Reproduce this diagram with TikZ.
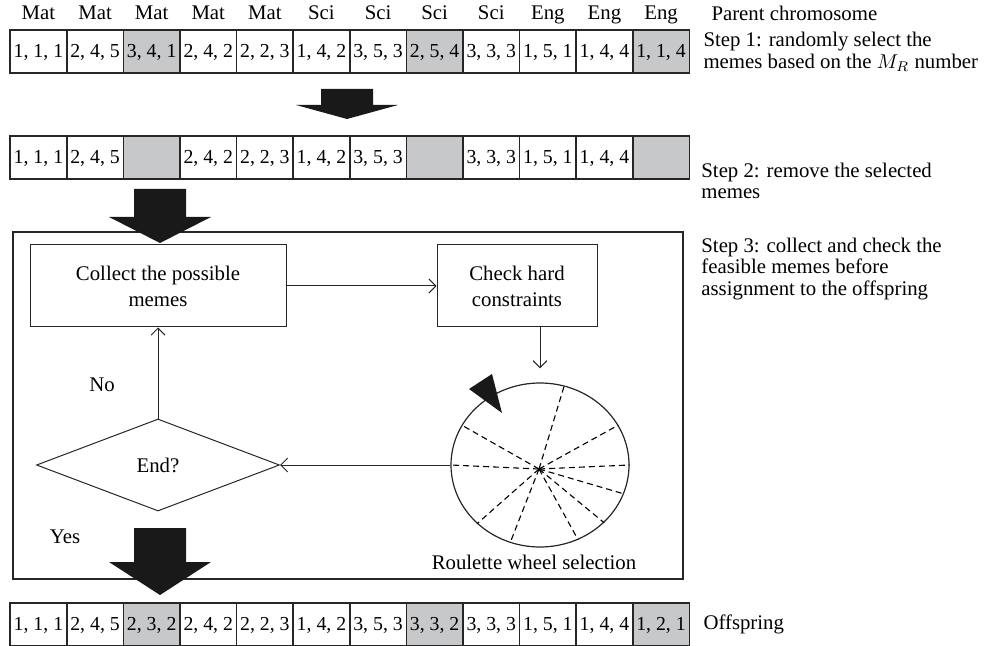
\documentclass[tikz,border=0pt]{standalone}
\usepackage{fontspec}
\setmainfont{Liberation Serif}
\usepackage{tikz}
\usetikzlibrary{matrix, positioning, shapes.geometric, arrows.meta}
\definecolor{memegray}{RGB}{199,200,202}
\tikzset{>={Straight Barb[length=3.5pt,width=7pt]}}
% big black arrow: x, top, base of head, tip
\newcommand{\bigarrow}[4]{%
\fill[black!90] (#1-26,#2) -- (#1+26,#2) -- (#1+26,#3) -- (#1+51,#3)
  -- (#1,#4) -- (#1-51,#3) -- (#1-26,#3) -- cycle;}

\begin{document}
\begin{tikzpicture}[x=0.5pt, y=-0.5pt, font=\fontsize{10.4}{10.75}\selectfont,
meme/.style={draw=black!85, line width=0.75pt, minimum width=28.3pt, minimum height=21.5pt, inner sep=0pt, text height=1.5ex, text depth=0.25ex, font=\fontsize{9.9}{11}\selectfont},
picked/.style={fill=memegray},
memerow/.style={matrix of nodes, nodes=meme, column sep=-0.75pt, inner sep=0pt, anchor=north west, nodes in empty cells},
steptext/.style={align=left, inner sep=0pt, anchor=west},
stepbox/.style={draw=black!85, line width=0.5pt, minimum height=41pt, align=center, font=\fontsize{10.4}{13}\selectfont},
flow/.style={->, line width=0.5pt, draw=black!85},
spoke/.style={line width=0.55pt, dash pattern=on 3pt off 2pt}]

\useasboundingbox (0,0) rectangle (984,646);

% parent chromosome
\matrix (par) [memerow, row sep=3pt, row 1/.style={nodes={draw=none, minimum height=10pt, font=\fontsize{10.4}{11}\selectfont}}] at (9,3)
{
Mat & Mat & Mat & Mat & Mat & Sci & Sci & Sci & Sci & Eng & Eng & Eng \\
1, 1, 1 & 2, 4, 5 & |[picked]| 3, 4, 1 & 2, 4, 2 & 2, 2, 3 & 1, 4, 2 & 3, 5, 3 & |[picked]| 2, 5, 4 & 3, 3, 3 & 1, 5, 1 & 1, 4, 4 & |[picked]| 1, 1, 4 \\
};
\node[steptext, right=10.5pt of par-1-12] (s0) {Parent chromosome};
\node[steptext, right=6.5pt of par-2-12] (s1) {Step 1: randomly select the\\memes based on the $M_R$ number};

% memes removed
\matrix (rem) [memerow] at (9,135)
{
1, 1, 1 & 2, 4, 5 & |[picked]| & 2, 4, 2 & 2, 2, 3 & 1, 4, 2 & 3, 5, 3 & |[picked]| & 3, 3, 3 & 1, 5, 1 & 1, 4, 4 & |[picked]| \\
};
\node[steptext] (s2) at (701,181) {Step 2: remove the selected\\memes};
\node[steptext] (s3) at (701,269) {Step 3: collect and check the\\feasible memes before\\assignment to the offspring};

% step 3 frame
\draw[line width=0.7pt, draw=black!85] (13,232) rectangle (683,579);

\bigarrow{347}{89}{105}{119}
\bigarrow{160}{189}{217}{243}
\bigarrow{160}{528}{562}{595}

\node[stepbox, minimum width=128pt] (collect) at (158,286) {Collect the possible\\memes};
\node[stepbox, minimum width=80pt] (check) at (517,286) {Check hard\\constraints};
\node[draw=black!85, line width=0.5pt, diamond, aspect=2.6, minimum width=121.5pt, minimum height=46pt, inner sep=0pt] (end) at (158,465) {End?};
\node[draw=black!85, line width=0.6pt, ellipse, minimum width=89pt, minimum height=82pt, inner sep=0pt] (wheel) at (540,465) {};
\coordinate (hub) at (539,469);
\foreach \a in {0,27,73,153,180,223,249,297,318,341}
  \draw[spoke] (hub) -- (wheel.\a);
\fill[black!90] (469,389) -- (492,374) -- (502,413) -- cycle;
\node (rws) at (534,562) {Roulette wheel selection};
\node (no) at (102,385) {No};
\node (yes) at (65,537) {Yes};

\draw[flow] (collect) -- (check);
\draw[flow, shorten >=7pt] (check.south -| wheel.north) -- (wheel.north);
\draw[flow] (wheel) -- (end);
\draw[flow] (end) -- (collect);

% offspring
\matrix (off) [memerow] at (9,602)
{
1, 1, 1 & 2, 4, 5 & |[picked]| 2, 3, 2 & 2, 4, 2 & 2, 2, 3 & 1, 4, 2 & 3, 5, 3 & |[picked]| 3, 3, 2 & 3, 3, 3 & 1, 5, 1 & 1, 4, 4 & |[picked]| 1, 2, 1 \\
};
\node[steptext, right=6.5pt of off-1-12] (s4) {Offspring};
\end{tikzpicture}
\end{document}
